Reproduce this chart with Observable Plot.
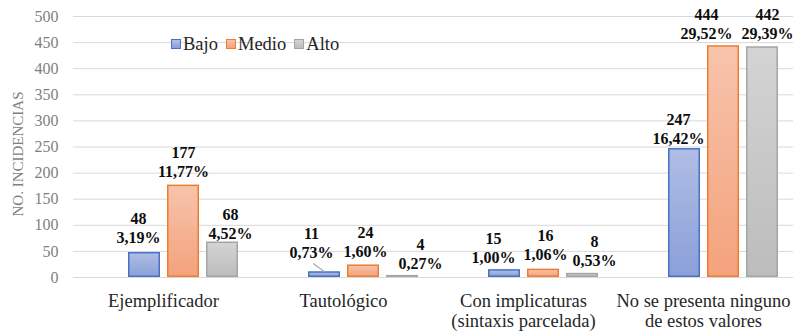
<!DOCTYPE html>
<html>
<head>
<meta charset="utf-8">
<script src="https://cdn.jsdelivr.net/npm/d3@7"></script>
<script src="https://cdn.jsdelivr.net/npm/@observablehq/plot@0.6"></script>
<style>
  body { margin: 0; background: #fff; }
  #chart { position: relative; width: 798px; height: 331px; font-family: 'Liberation Serif', serif; }
  #legend { position: absolute; left: 171px; top: 33px; display: flex; align-items: center; font-size: 18.5px; color: #262626; line-height: 22px; }
  #legend .item { display: flex; align-items: center; margin-right: 8px; }
  #legend .sw { width: 8px; height: 8px; border: 1px solid; margin-right: 2px; }
  #ytitle { position: absolute; left: -82px; top: 144px; width: 200px; text-align: center; font-size: 15px; color: #7f7f7f; transform: rotate(-90deg); line-height: 20px; white-space: nowrap; }
</style>
</head>
<body>
<div id="chart">
  <div id="ytitle">NO. INCIDENCIAS</div>
  <div id="legend"></div>
</div>
<script>
// Incidencias por categoría y nivel
const categories = ["Ejemplificador", "Tautológico", "Con implicaturas", "No se presenta ninguno"];
const categoryLabels = ["Ejemplificador", "Tautológico", "Con implicaturas\n(sintaxis parcelada)", "No se presenta ninguno\nde estos valores"];
const levels = ["Bajo", "Medio", "Alto"];
const bajo = [48, 11, 15, 247];
const medio = [177, 24, 16, 444];
const alto = [68, 4, 8, 442];
const pctBajo = ["3,19%", "0,73%", "1,00%", "16,42%"];
const pctMedio = ["11,77%", "1,60%", "1,06%", "29,52%"];
const pctAlto = ["4,52%", "0,27%", "0,53%", "29,39%"];
const yTicks = [0, 50, 100, 150, 200, 250, 300, 350, 400, 450, 500];

const serif = "Liberation Serif";
const colors = {
  Bajo:  {stroke: "#4472c4", top: "#b0bde5", bottom: "#8aa0d8"},
  Medio: {stroke: "#ed7d31", top: "#f7c4ac", bottom: "#f4a27c"},
  Alto:  {stroke: "#a5a5a5", top: "#d4d4d4", bottom: "#bcbcbc"}
};

// long-format table built from the series arrays
const series = {Bajo: [bajo, pctBajo], Medio: [medio, pctMedio], Alto: [alto, pctAlto]};
const rows = [];
categories.forEach((cat, i) => {
  levels.forEach(level => {
    rows.push({cat, level, value: series[level][0][i], pct: series[level][1][i]});
  });
});

// hand-placed data labels (offsets in px from the default spot above each bar)
const nudge = {
  "Ejemplificador|Bajo": [-6, -1],
  "Ejemplificador|Alto": [8, 5],
  "Tautológico|Bajo": [-13, -6],
  "Tautológico|Medio": [2, 0],
  "Tautológico|Alto": [18, 1.5],
  "Con implicaturas|Bajo": [-11, 1.5],
  "Con implicaturas|Medio": [2, -1],
  "Con implicaturas|Alto": [12, 0.5],
  "No se presenta ninguno|Bajo": [-6, 3.5],
  "No se presenta ninguno|Medio": [-17, 1.5],
  "No se presenta ninguno|Alto": [5, 0]
};
const baseDy = -8;

const labelMarks = rows.map(d => {
  const [dx, dy] = nudge[`${d.cat}|${d.level}`] || [0, 0];
  return Plot.text([d], {
    fx: "cat", x: "level", y: "value",
    text: r => `${r.value}\n${r.pct}`,
    lineAnchor: "bottom", lineHeight: 1.2,
    fontSize: 16, fontWeight: "bold", fontFamily: serif, fill: "#0d0d0d",
    dx, dy: baseDy + dy
  });
});

// thin leader line from a displaced label back to its bar
const leader = rows.filter(d => d.cat === "Tautológico" && d.level === "Bajo");
const lineShape = {draw(context, l) { context.moveTo(0, 0); context.lineTo(0, -l); }};

const plot = Plot.plot({
  width: 798,
  height: 331,
  marginTop: 16,
  marginBottom: 54,
  marginLeft: 73,
  marginRight: 5,
  style: {fontFamily: serif},
  fx: {domain: categories, padding: 0, axis: null},
  x: {domain: [" ", ...levels], paddingInner: 7 / 39, paddingOuter: 0.397, axis: null},
  y: {domain: [0, 500], axis: null},
  color: {type: "identity"},
  marks: [
    Plot.gridY(yTicks, {stroke: "#d9d9d9", strokeOpacity: 1, strokeWidth: 1}),
    Plot.axisY(yTicks, {tickSize: 0, tickPadding: 15, fontSize: 16, fontFamily: serif, color: "#7f7f7f", label: null}),
    Plot.axisFx({anchor: "bottom", tickSize: 0, tickPadding: 15, fontSize: 18.5, fontFamily: serif, lineHeight: 1.1,
      color: "#262626", label: null,
      tickFormat: c => categoryLabels[categories.indexOf(c)]}),
    Plot.barY(rows, {
      fx: "cat", x: "level", y: "value",
      fill: d => `url(#grad-${d.level})`,
      stroke: d => colors[d.level].stroke,
      strokeWidth: 1.5,
      inset: 0.75
    }),
    Plot.vector(leader, {
      fx: "cat", x: "level", y: "value",
      anchor: "end", length: 13.6, rotate: 126,
      shape: lineShape, stroke: "#a6a6a6", strokeWidth: 1
    }),
    ...labelMarks
  ]
});

// vertical gradients for the bar fills
const defs = d3.select(plot).insert("defs", ":first-child");
levels.forEach(level => {
  const g = defs.append("linearGradient")
    .attr("id", `grad-${level}`)
    .attr("x1", 0).attr("y1", 0).attr("x2", 0).attr("y2", 1);
  g.append("stop").attr("offset", "0%").attr("stop-color", colors[level].top);
  g.append("stop").attr("offset", "100%").attr("stop-color", colors[level].bottom);
});

const chart = document.getElementById("chart");
chart.insertBefore(plot, chart.firstChild);
plot.style.position = "absolute";
plot.style.left = "0";
plot.style.top = "0";

// legend
const legend = d3.select("#legend");
levels.forEach(level => {
  const item = legend.append("div").attr("class", "item");
  item.append("div").attr("class", "sw")
    .style("border-color", colors[level].stroke)
    .style("background", `linear-gradient(${colors[level].top}, ${colors[level].bottom})`);
  item.append("span").text(level);
});
</script>
</body>
</html>
